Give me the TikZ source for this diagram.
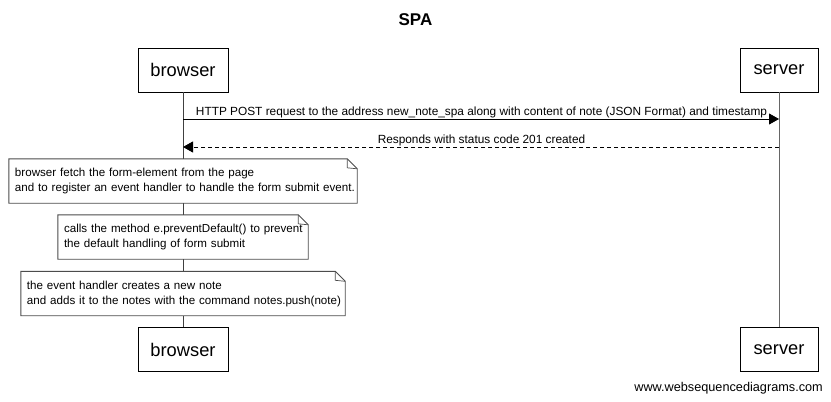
\documentclass[tikz,border=0pt]{standalone}
\usepackage{fontspec}
\setmainfont{Liberation Sans}
\usetikzlibrary{arrows.meta}
\begin{document}
\begin{tikzpicture}[x=1pt,y=-1pt,
  actor/.style={draw=black,line width=0.9pt,fill=white,minimum width=90pt,minimum height=44pt,inner sep=0pt,font=\fontsize{18.3}{20}\selectfont},
  lifeline/.style={draw=black!75,line width=1pt},
  msg/.style={draw=black,line width=0.9pt,-{Triangle[length=10pt,width=11pt]}},
  reply/.style={msg,dashed,dash pattern=on 4pt off 3pt},
  msglabel/.style={font=\fontsize{11.85}{13}\selectfont,inner sep=0pt},
  note/.style={fill=white,draw=none,inner xsep=6pt,inner ysep=0pt,minimum height=44pt,align=left,font=\fontsize{11.6}{15}\selectfont},
  notebox/.style={draw=black!70,line width=0.9pt},
]
\useasboundingbox (0,0) rectangle (831,402);
\fill[white] (0,0) rectangle (831,402);
\node[font=\bfseries\fontsize{17}{20}\selectfont] (title) at (415.5,20) {SPA};

\node[actor] (bt) at (183,70) {browser};
\node[actor,minimum width=78pt] (st) at (779,70) {server};
\node[actor] (bb) at (183,349.5) {browser};
\node[actor,minimum width=78pt] (sb) at (779,349.5) {server};
\draw[lifeline] (bt.south) -- (bb.north);
\draw[lifeline,draw=black!60] (st.south) -- (sb.north);

\coordinate (m1a) at (183,119);
\coordinate (m1b) at (779,119);
\draw[msg] (m1a) -- (m1b);
\node[msglabel] (l1) at (481.5,112) {HTTP POST request to the address new\_note\_spa along with content of note (JSON Format) and timestamp};

\coordinate (m2a) at (779,147);
\coordinate (m2b) at (183,147);
\draw[reply] (m2a) -- (m2b);
\node[msglabel] (l2) at (481.5,140) {Responds with status code 201 created};

\newcommand{\notefold}[1]{%
  \draw[notebox] (#1.south west) -- (#1.north west) -- ([xshift=-10pt]#1.north east) -- ([yshift=-10pt]#1.north east) -- (#1.south east) -- cycle;
  \draw[notebox,line width=0.7pt] ([xshift=-10pt]#1.north east) -- ([xshift=-10pt,yshift=-9pt]#1.north east) -- ([yshift=-10pt]#1.north east);
}

\node[note,text width=336pt] (n1) at (183,181) {\mbox{browser fetch the form-element from the page}\\\mbox{and to register an event handler to handle the form submit event.}};
\notefold{n1}
\node[note,text width=238pt] (n2) at (183,237) {\mbox{calls the method e.preventDefault() to prevent}\\\mbox{the default handling of form submit}};
\notefold{n2}
\node[note,text width=312pt] (n3) at (183,293.5) {\mbox{the event handler creates a new note}\\\mbox{and adds it to the notes with the command notes.push(note)}};
\notefold{n3}

\node[anchor=east,inner sep=0pt,font=\fontsize{12.7}{14}\selectfont] (wm) at (823,388) {www.websequencediagrams.com};
\end{tikzpicture}
\end{document}
